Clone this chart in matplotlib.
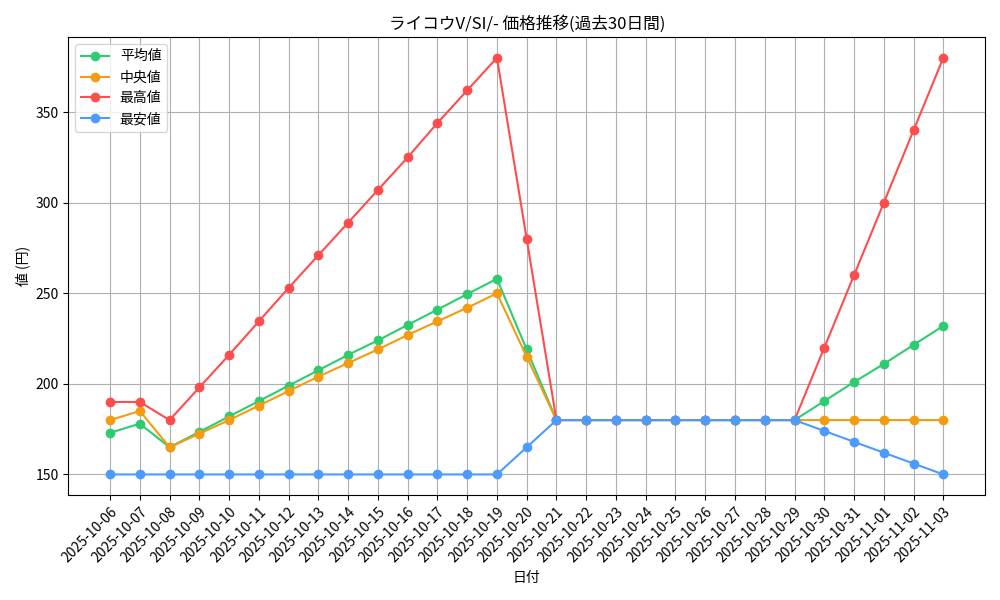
import matplotlib
matplotlib.use("Agg")
import matplotlib.pyplot as plt
import pandas as pd

plt.rcParams['font.family'] = ['Noto Sans CJK JP', 'DejaVu Sans']

dates = [d.strftime('%Y-%m-%d') for d in pd.date_range('2025-10-06', '2025-11-03')]
mean_v = [173, 178, 165, 173.5, 182, 190.5, 199, 207.5, 216, 224, 232.5, 241, 249.5, 258, 219,
          180, 180, 180, 180, 180, 180, 180, 180, 180, 190.5, 201, 211, 221.5, 232]
median_v = [180, 185, 165, 172.5, 180, 188, 196, 204, 211.5, 219, 227, 234.5, 242, 250, 215,
            180, 180, 180, 180, 180, 180, 180, 180, 180, 180, 180, 180, 180, 180]
max_v = [190, 190, 180, 198, 216, 234.5, 253, 271, 289, 307, 325, 344, 362, 380, 280,
         180, 180, 180, 180, 180, 180, 180, 180, 180, 220, 260, 300, 340, 380]
min_v = [150, 150, 150, 150, 150, 150, 150, 150, 150, 150, 150, 150, 150, 150, 165,
         180, 180, 180, 180, 180, 180, 180, 180, 180, 174, 168, 162, 156, 150]

fig, ax = plt.subplots(figsize=(10, 6), dpi=100)
x = range(len(dates))
ax.plot(x, mean_v, marker='o', color='#2ecc71', label='平均値')
ax.plot(x, median_v, marker='o', color='#f39c12', label='中央値')
ax.plot(x, max_v, marker='o', color='#ff4d4d', label='最高値')
ax.plot(x, min_v, marker='o', color='#4d9bff', label='最安値')
ax.set_xticks(list(x))
ax.set_xticklabels(dates, rotation=45, ha='right', rotation_mode='anchor')
ax.set_title('ライコウV/SI/- 価格推移(過去30日間)')
ax.set_xlabel('日付')
ax.set_ylabel('値 (円)')
ax.grid(True, color='#b0b0b0')
ax.legend(loc='upper left')
fig.tight_layout()
fig.savefig('out.png')
